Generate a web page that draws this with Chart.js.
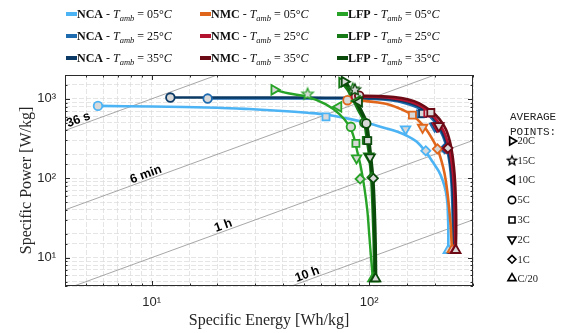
<!DOCTYPE html>
<html>
<head>
<meta charset="utf-8">
<script src="https://cdn.jsdelivr.net/npm/chart.js@4.4.1/dist/chart.umd.min.js"></script>
<style>
  html, body { margin: 0; padding: 0; background: #fff; }
  #wrap { position: relative; width: 566px; height: 333px; }
</style>
</head>
<body>
<div id="wrap"><canvas id="ragone" width="566" height="333"></canvas></div>
<script>
// axis ranges: specific energy (Wh/kg) and specific power (W/kg)
const energyRange = [4, 300];
const powerRange = [4.4, 2000];

// constant discharge-time guide lines (hours) and their labels
const guideHours = [0.01, 0.1, 1, 10];
const guideNames = ['36 s', '6 min', '1 h', '10 h'];
const guideLabelE = [4.7, 9.6, 21.8, 53];

// C-rates of the average points, legend order
const rateNames = ['20C', '15C', '10C', '5C', '3C', '2C', '1C', 'C/20'];

const chemistries = ['NCA', 'NMC', 'LFP'];
const ambientTemps = ['05', '25', '35'];

// Ragone curves, [energy, power]
const nca05Curve = [[5.67, 816], [10, 802], [20, 775], [28, 745], [40, 705], [52, 668], [63, 635], [81, 560], [100, 490], [118, 430], [135, 385], [150, 340], [165, 290], [182, 215], [196, 160], [209, 122], [218, 93], [225, 68], [229, 48], [230, 36], [231, 24], [231, 12.4]];
const nca25Curve = [[18.1, 1010], [30, 1015], [50, 1015], [80, 1010], [105, 995], [125, 960], [145, 890], [165, 790], [183, 660], [198, 530], [212, 400], [224, 280], [233, 170], [238, 100], [241, 50], [242, 25], [242, 12.4]];
const nca35Curve = [[12.2, 1040], [25, 1040], [50, 1038], [80, 1032], [105, 1020], [128, 985], [150, 910], [170, 800], [188, 660], [203, 520], [217, 380], [229, 250], [237, 140], [242, 70], [244, 35], [245, 20], [245, 12.4]];
const nmc05Curve = [[79.5, 963], [95, 945], [110, 900], [125, 840], [142, 730], [158, 630], [170, 520], [182, 420], [194, 320], [206, 234], [215, 165], [222, 115], [228, 72], [233, 42], [237, 25], [240, 12.6]];
const nmc25Curve = [[87, 1075], [105, 1065], [125, 1030], [145, 960], [165, 860], [183, 730], [198, 600], [212, 470], [224, 350], [233, 240], [240, 150], [245, 80], [247, 40], [248, 22], [248, 12.4]];
const nmc35Curve = [[90, 1095], [110, 1085], [130, 1055], [150, 990], [170, 880], [192, 707], [210, 560], [225, 416], [235, 290], [241, 202], [245, 140], [248, 93], [250, 55], [251, 35], [251, 20], [250, 12.4]];
const lfp05Curve = [[36.6, 1300], [43, 1170], [52, 1060], [63, 860], [73, 645], [81, 458], [85, 330], [88, 222], [91.6, 137], [95, 77], [98, 40], [100, 20], [102, 10], [104, 5.45]];
const lfp25Curve = [[75, 1640], [80, 1300], [85.3, 944], [90, 700], [94.9, 529], [98.2, 297], [100.7, 184], [102.9, 93], [104.3, 39], [105.5, 15], [106, 5.45]];
const lfp35Curve = [[77, 1680], [82, 1300], [87, 944], [92, 700], [96.5, 520], [99.5, 300], [101.5, 185], [104, 93], [105.5, 39], [106.5, 15], [107, 5.45]];

// average points, [C-rate, energy, power]
const nca05Marks = [['5C', 5.67, 816], ['3C', 63.3, 594], ['2C', 147, 417], ['1C', 182, 222], ['C/20', 231, 12.4]];
const nca25Marks = [['5C', 18.1, 1010], ['3C', 172, 648], ['2C', 200, 452], ['1C', 222, 236], ['C/20', 242, 12.4]];
const nca35Marks = [['5C', 12.2, 1040], ['3C', 176, 655], ['2C', 204, 456], ['1C', 226, 238], ['C/20', 245, 12.4]];
const nmc05Marks = [['5C', 79.5, 963], ['3C', 158, 624], ['2C', 176, 436], ['1C', 206, 234], ['C/20', 241, 12.6]];
const nmc25Marks = [['5C', 87, 1075], ['3C', 186, 662], ['2C', 206, 455], ['1C', 228, 238], ['C/20', 248, 12.4]];
const nmc35Marks = [['5C', 90, 1095], ['3C', 192, 673], ['2C', 209, 458], ['1C', 230, 240], ['C/20', 250, 12.4]];
const lfp05Marks = [['20C', 36.6, 1300], ['15C', 52.1, 1145], ['10C', 72.3, 794], ['5C', 82.4, 445], ['3C', 86.9, 275], ['2C', 87.5, 180], ['1C', 90.9, 98], ['C/20', 104, 5.45]];
const lfp25Marks = [['20C', 75, 1600], ['15C', 84, 1330], ['10C', 88, 940], ['5C', 95, 500], ['3C', 97, 300], ['2C', 99.5, 190], ['1C', 103, 103], ['C/20', 106, 5.45]];
const lfp35Marks = [['20C', 77, 1650], ['15C', 86, 1300], ['10C', 90, 920], ['5C', 97, 490], ['3C', 98.5, 298], ['2C', 101, 185], ['1C', 104.5, 100], ['C/20', 107, 5.45]];

// series table (chemistry x temperature), styles kept apart from the values
const series = [
  { chem: 'NCA', temp: '05', curve: nca05Curve, marks: nca05Marks, color: '#4cb3f4', width: 2.6 },
  { chem: 'NCA', temp: '25', curve: nca25Curve, marks: nca25Marks, color: '#1f6bb0', width: 2.6 },
  { chem: 'NCA', temp: '35', curve: nca35Curve, marks: nca35Marks, color: '#0c3a66', width: 2.6 },
  { chem: 'NMC', temp: '05', curve: nmc05Curve, marks: nmc05Marks, color: '#e0661c', width: 2.6 },
  { chem: 'NMC', temp: '25', curve: nmc25Curve, marks: nmc25Marks, color: '#b3132f', width: 2.6 },
  { chem: 'NMC', temp: '35', curve: nmc35Curve, marks: nmc35Marks, color: '#6c0a16', width: 2.6 },
  { chem: 'LFP', temp: '05', curve: lfp05Curve, marks: lfp05Marks, color: '#27a327', width: 2.4 },
  { chem: 'LFP', temp: '25', curve: lfp25Curve, marks: lfp25Marks, color: '#167a16', width: 3.6 },
  { chem: 'LFP', temp: '35', curve: lfp35Curve, marks: lfp35Marks, color: '#0a4a0a', width: 3.6 }
];

const markFill = '#d9d9d9';

// five-pointed star as an image, Chart.js has no such point style
function starImage(stroke, fill, r) {
  const c = document.createElement('canvas');
  const s = Math.ceil(2 * r + 4);
  c.width = s; c.height = s;
  const g = c.getContext('2d');
  g.beginPath();
  for (let i = 0; i < 10; i++) {
    const rr = i % 2 === 0 ? r : r * 0.45;
    const a = -Math.PI / 2 + i * Math.PI / 5;
    const px = s / 2 + rr * Math.cos(a), py = s / 2 + rr * Math.sin(a);
    if (i === 0) g.moveTo(px, py); else g.lineTo(px, py);
  }
  g.closePath();
  g.fillStyle = fill; g.fill();
  g.lineWidth = 1.3; g.strokeStyle = stroke; g.stroke();
  return c;
}

const rateStyle = {
  '20C': { style: 'triangle', rot: 90, r: 5.5 },
  '15C': { style: 'star', rot: 0, r: 6 },
  '10C': { style: 'triangle', rot: -90, r: 5.5 },
  '5C': { style: 'circle', rot: 0, r: 4.3 },
  '3C': { style: 'rect', rot: 0, r: 5 },
  '2C': { style: 'triangle', rot: 180, r: 5.5 },
  '1C': { style: 'rectRot', rot: 0, r: 4.6 },
  'C/20': { style: 'triangle', rot: 0, r: 5.5 }
};

function styleFor(rate, color, fill) {
  const st = rateStyle[rate];
  return st.style === 'star' ? starImage(color, fill, st.r) : st.style;
}

const datasets = [];

// guide lines of constant discharge time, P = E / t
guideHours.forEach((h, i) => {
  datasets.push({
    label: guideNames[i],
    data: energyRange.map(e => ({ x: e, y: e / h })),
    showLine: true,
    borderColor: '#909090',
    borderWidth: 0.8,
    pointRadius: 0,
    order: 100
  });
});

series.forEach((s, i) => {
  datasets.push({
    label: s.chem + ' ' + s.temp,
    data: s.curve.map(p => ({ x: p[0], y: p[1] })),
    showLine: true,
    tension: 0.35,
    borderColor: s.color,
    borderWidth: s.width,
    pointRadius: 0,
    order: 60 - i
  });
  datasets.push({
    label: s.chem + ' ' + s.temp + ' points',
    data: s.marks.map(m => ({ x: m[1], y: m[2] })),
    showLine: false,
    pointStyle: s.marks.map(m => styleFor(m[0], s.color, markFill)),
    pointRotation: s.marks.map(m => rateStyle[m[0]].rot),
    pointRadius: s.marks.map(m => rateStyle[m[0]].r),
    pointBackgroundColor: markFill,
    pointBorderColor: s.color,
    pointBorderWidth: 1.8,
    order: 30 - i
  });
});

function isDecade(v) {
  const l = Math.log10(v);
  return Math.abs(l - Math.round(l)) < 1e-6;
}
const sup = { '0': '⁰', '1': '¹', '2': '²', '3': '³', '4': '⁴' };
function decadeLabel(v) {
  if (!isDecade(v)) return '';
  return '10' + sup[String(Math.round(Math.log10(v)))];
}

const serif = '"Liberation Serif", "Times New Roman", serif';

function richText(ctx, x, y, parts) {
  let cx = x;
  parts.forEach(p => {
    ctx.font = p[1];
    ctx.fillText(p[0], cx, y + (p[2] || 0));
    cx += ctx.measureText(p[0]).width;
  });
}

const decorPlugin = {
  id: 'decor',
  afterDraw(chart) {
    const ctx = chart.ctx;
    const area = chart.chartArea;
    const xs = chart.scales.x, ys = chart.scales.y;
    ctx.save();

    // guide line labels
    ctx.fillStyle = '#000';
    ctx.font = 'bold 12.5px "Liberation Sans", Arial, sans-serif';
    ctx.textAlign = 'center';
    ctx.textBaseline = 'alphabetic';
    guideHours.forEach((h, i) => {
      const e = guideLabelE[i];
      const px = xs.getPixelForValue(e), py = ys.getPixelForValue(e / h);
      const qx = xs.getPixelForValue(e * 2), qy = ys.getPixelForValue(e * 2 / h);
      const ang = Math.atan2(qy - py, qx - px);
      ctx.save();
      ctx.translate(px, py);
      ctx.rotate(ang);
      ctx.fillText(guideNames[i], 0, -2);
      ctx.restore();
    });

    // box and inner ticks
    ctx.strokeStyle = '#2b2b2b';
    ctx.lineWidth = 1;
    ctx.strokeRect(area.left + 0.5, area.top + 0.5, area.right - area.left - 1, area.bottom - area.top - 1);
    ctx.beginPath();
    xs.ticks.forEach(t => {
      const p = Math.round(xs.getPixelForValue(t.value)) + 0.5;
      const len = isDecade(t.value) ? 5 : 2.5;
      ctx.moveTo(p, area.bottom); ctx.lineTo(p, area.bottom - len);
      ctx.moveTo(p, area.top); ctx.lineTo(p, area.top + len);
    });
    ys.ticks.forEach(t => {
      const p = Math.round(ys.getPixelForValue(t.value)) + 0.5;
      const len = isDecade(t.value) ? 5 : 2.5;
      ctx.moveTo(area.left, p); ctx.lineTo(area.left + len, p);
      ctx.moveTo(area.right, p); ctx.lineTo(area.right - len, p);
    });
    ctx.stroke();

    // axis titles
    ctx.fillStyle = '#262626';
    ctx.font = '16px ' + serif;
    ctx.textAlign = 'center';
    ctx.textBaseline = 'middle';
    ctx.fillText('Specific Energy [Wh/kg]', (area.left + area.right) / 2, 321);
    ctx.save();
    ctx.translate(27, (area.top + area.bottom) / 2);
    ctx.rotate(-Math.PI / 2);
    ctx.fillText('Specific Power [W/kg]', 0, 0);
    ctx.restore();

    // series legend, three columns by chemistry
    const colX = [66, 200, 337];
    const rowY = [14, 36, 58];
    ctx.textAlign = 'left';
    ctx.textBaseline = 'alphabetic';
    series.forEach(s => {
      const x = colX[chemistries.indexOf(s.chem)];
      const y = rowY[ambientTemps.indexOf(s.temp)];
      ctx.fillStyle = s.color;
      ctx.fillRect(x, y - 2, 11, 4);
      ctx.fillStyle = '#111';
      richText(ctx, x + 11, y + 4, [
        [s.chem, 'bold 12px ' + serif],
        [' - ', '12px ' + serif],
        ['T', 'italic 12px ' + serif],
        ['amb', 'italic 8.5px ' + serif, 2.5],
        [' = ' + s.temp + '°', '12px ' + serif],
        ['C', 'italic 12px ' + serif]
      ]);
    });

    // average points key
    ctx.fillStyle = '#222';
    ctx.font = '11px "Liberation Mono", "Courier New", monospace';
    ctx.textBaseline = 'middle';
    ctx.fillText('AVERAGE', 510, 117);
    ctx.fillText('POINTS:', 510, 132);
    const keyY = [141, 160.7, 180, 200, 220, 239.3, 259.3, 278.3];
    rateNames.forEach((r, i) => {
      const st = rateStyle[r];
      ctx.fillStyle = '#fff';
      ctx.strokeStyle = '#000';
      ctx.lineWidth = 1.6;
      Chart.helpers.drawPoint(ctx, {
        pointStyle: st.style === 'star' ? starImage('#000', '#fff', 4.8) : st.style,
        rotation: st.rot,
        radius: st.r * 0.85,
        borderWidth: 1.6
      }, 512, keyY[i]);
      ctx.fillStyle = '#222';
      ctx.font = '10.5px ' + serif;
      ctx.fillText(r, 517.5, keyY[i] + 0.5);
    });

    ctx.restore();
  }
};

new Chart(document.getElementById('ragone'), {
  type: 'scatter',
  data: { datasets },
  options: {
    responsive: false,
    animation: false,
    devicePixelRatio: 1,
    layout: { padding: { top: 75, right: 93, bottom: 0, left: 0 } },
    plugins: { legend: { display: false }, tooltip: { enabled: false } },
    scales: {
      x: {
        type: 'logarithmic',
        min: energyRange[0],
        max: energyRange[1],
        afterFit: scale => { scale.height = 47; },
        grid: { color: '#dedede', lineWidth: 0.8, drawTicks: false },
        border: { display: false, dash: [5, 2] },
        ticks: {
          autoSkip: false,
          maxRotation: 0,
          padding: 9,
          color: '#262626',
          font: { family: '"Liberation Sans", Arial, sans-serif', size: 13 },
          callback: v => decadeLabel(v)
        }
      },
      y: {
        type: 'logarithmic',
        min: powerRange[0],
        max: powerRange[1],
        afterFit: scale => { scale.width = 65; },
        grid: { color: '#dedede', lineWidth: 0.8, drawTicks: false },
        border: { display: false, dash: [5, 2] },
        ticks: {
          autoSkip: false,
          padding: 9,
          color: '#262626',
          font: { family: '"Liberation Sans", Arial, sans-serif', size: 13 },
          callback: v => decadeLabel(v)
        }
      }
    }
  },
  plugins: [decorPlugin]
});
</script>
</body>
</html>
